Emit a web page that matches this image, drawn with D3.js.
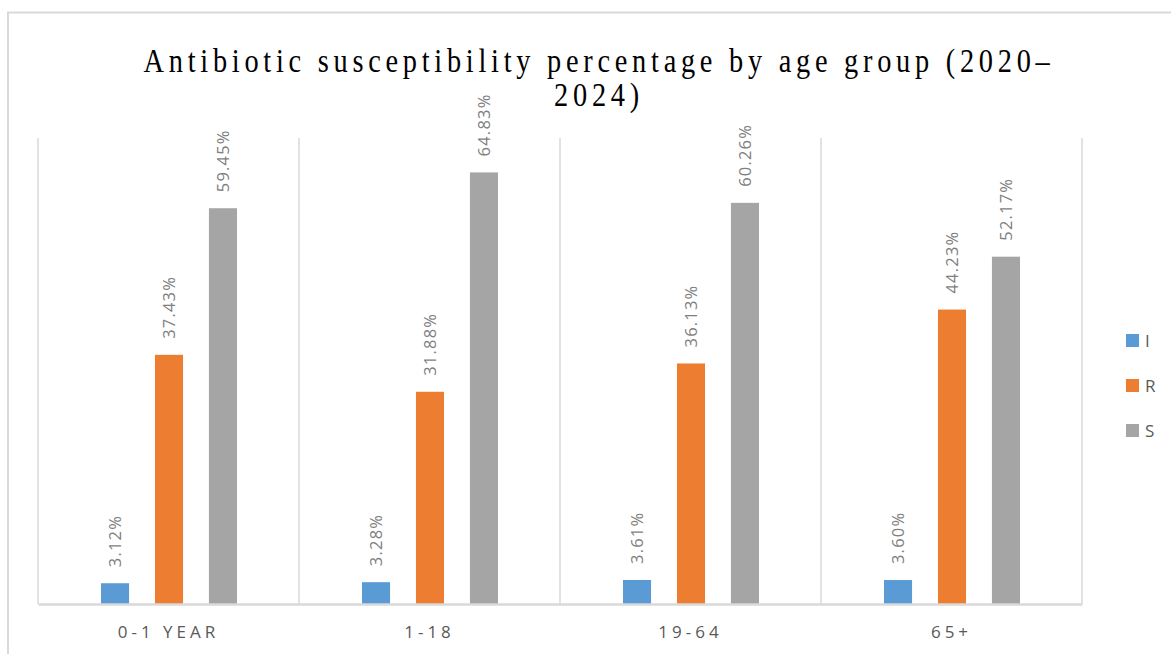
<!DOCTYPE html>
<html>
<head>
<meta charset="utf-8">
<script src="https://cdn.jsdelivr.net/npm/d3@7"></script>
<style>
  html, body { margin: 0; padding: 0; background: #fff; }
  svg { display: block; }
</style>
</head>
<body>
<svg id="chart" width="1171" height="654"></svg>
<script>
// Age groups and the share of isolates in each susceptibility class
const categories = ["0-1 YEAR", "1-18", "19-64", "65+"];
const seriesNames = ["I", "R", "S"];
const valuesI = [3.12, 3.28, 3.61, 3.60];
const valuesR = [37.43, 31.88, 36.13, 44.23];
const valuesS = [59.45, 64.83, 60.26, 52.17];
const seriesColors = ["#5b9bd5", "#ed7d31", "#a5a5a5"];
const titleLines = ["Antibiotic susceptibility percentage by age group (2020–", "2024)"];

const series = [valuesI, valuesR, valuesS];

const svg = d3.select("#chart");
const W = 1171, H = 654;
const plot = { left: 38, right: 1082, top: 138, bottom: 604 };

// outer frame
svg.append("path")
  .attr("d", `M8,${H} L8,12.5 L${W},12.5`)
  .attr("fill", "none").attr("stroke", "#d9d9d9").attr("stroke-width", 2);

// title: tall, slightly condensed serif with open tracking
const titleX = 599, sx = 0.86;
const title = svg.append("text")
  .attr("transform", `translate(${titleX},0) scale(${sx},1)`)
  .attr("text-anchor", "middle")
  .attr("font-family", "'Liberation Serif', 'Times New Roman', serif")
  .attr("font-size", 33)
  .attr("letter-spacing", 5.5)
  .attr("fill", "#000");
titleLines.forEach((t, i) => {
  title.append("tspan").attr("x", 0).attr("y", 72 + i * 34).text(t);
});

const x0 = d3.scaleBand().domain(categories).range([plot.left, plot.right]).padding(0);
const x1 = d3.scaleBand().domain(seriesNames).range([-67.5, 68.5]).paddingInner(0.48).paddingOuter(0);
const y = d3.scaleLinear().domain([0, 70]).range([plot.bottom, plot.top]);

// vertical category separators
const bounds = categories.map(c => x0(c)).concat([plot.right]);
svg.append("g").selectAll("line").data(bounds).join("line")
  .attr("x1", d => d).attr("x2", d => d)
  .attr("y1", plot.top).attr("y2", plot.bottom)
  .attr("stroke", "#d9d9d9").attr("stroke-width", 1.5);

// bars with rotated value labels
const groups = svg.append("g").selectAll("g").data(categories).join("g")
  .attr("transform", c => `translate(${x0(c) + x0.bandwidth() / 2},0)`);

groups.each(function (c, ci) {
  const g = d3.select(this);
  seriesNames.forEach((s, si) => {
    const v = series[si][ci];
    const bx = x1(s);
    g.append("rect")
      .attr("x", bx).attr("width", x1.bandwidth())
      .attr("y", y(v)).attr("height", y(0) - y(v))
      .attr("fill", seriesColors[si]);
    g.append("text")
      .attr("transform", `translate(${bx + x1.bandwidth() / 2 + 6},${y(v) - 16}) rotate(-90)`)
      .attr("font-family", "'Open Sans', sans-serif")
      .attr("font-size", 16.5)
      .attr("letter-spacing", 1.2)
      .attr("fill", "#7f7f7f")
      .text(v.toFixed(2) + "%");
  });
});

// baseline axis
const xAxis = svg.append("g").attr("transform", `translate(0,${plot.bottom})`)
  .call(d3.axisBottom(x0).tickSize(0).tickPadding(0));
xAxis.select(".domain").attr("stroke", "#d9d9d9").attr("stroke-width", 2.5);
xAxis.selectAll(".tick text")
  .attr("y", 34)
  .attr("dy", 0)
  .attr("font-family", "'Open Sans', sans-serif")
  .attr("font-size", 17)
  .attr("letter-spacing", 4)
  .attr("fill", "#595959");

// legend
const legend = svg.append("g").selectAll("g").data(seriesNames).join("g")
  .attr("transform", (d, i) => `translate(1126,${334 + i * 45})`);
legend.append("rect").attr("width", 13).attr("height", 13)
  .attr("fill", (d, i) => seriesColors[i]);
legend.append("text").attr("x", 19).attr("y", 12.5)
  .attr("font-family", "'Open Sans', sans-serif")
  .attr("font-size", 17)
  .attr("fill", "#595959")
  .text(d => d);
</script>
</body>
</html>
